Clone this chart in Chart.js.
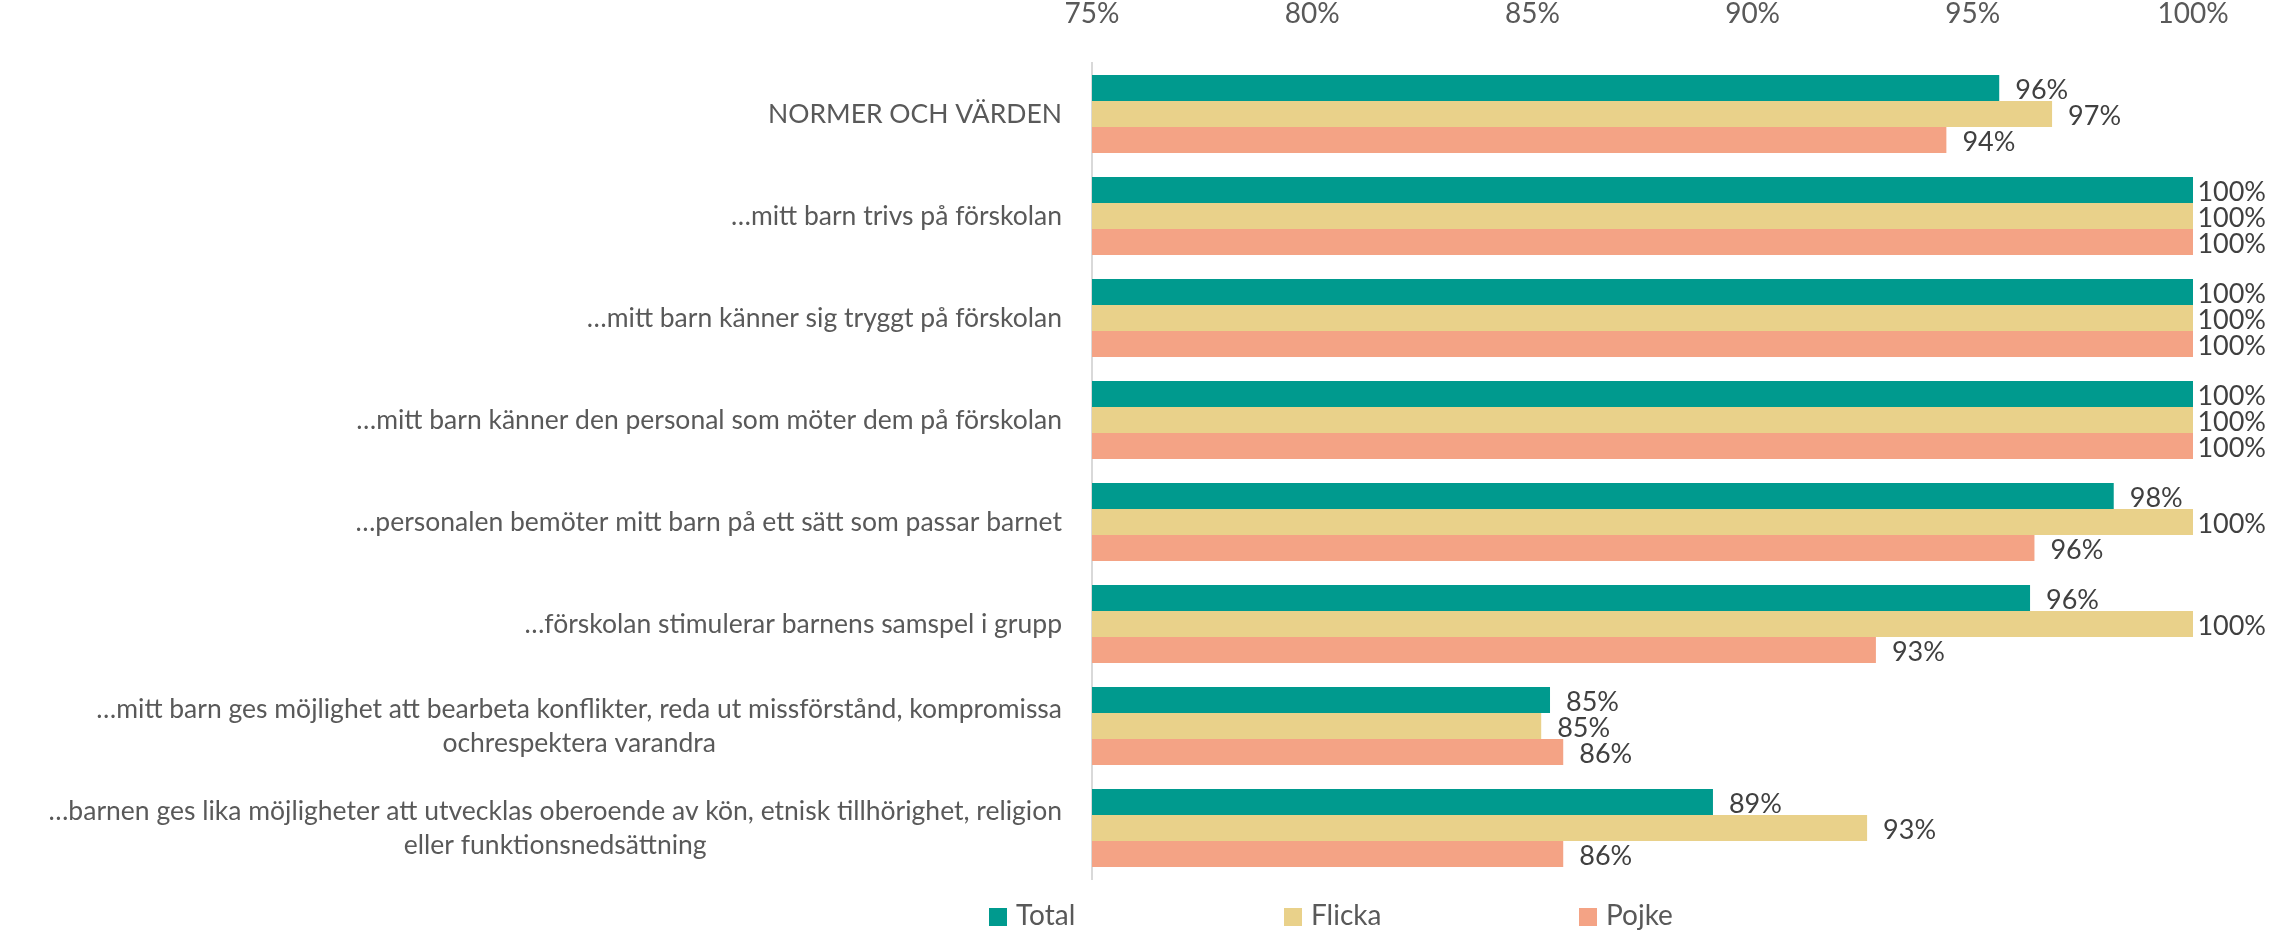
<!DOCTYPE html>
<html><head><meta charset="utf-8">
<script src="https://cdn.jsdelivr.net/npm/chart.js@4.4.0/dist/chart.umd.min.js"></script>
<style>html,body{margin:0;padding:0;background:#fff;} canvas{display:block}</style>
</head><body>
<canvas id="c" width="2290" height="931"></canvas>
<script>
const categories = [
  "NORMER OCH VÄRDEN",
  "…mitt barn trivs på förskolan",
  "…mitt barn känner sig tryggt på förskolan",
  "…mitt barn känner den personal som möter dem på förskolan",
  "…personalen bemöter mitt barn på ett sätt som passar barnet",
  "…förskolan stimulerar barnens samspel i grupp",
  ["…mitt barn ges möjlighet att bearbeta konflikter, reda ut missförstånd, kompromissa", "ochrespektera varandra"],
  ["…barnen ges lika möjligheter att utvecklas oberoende av kön, etnisk tillhörighet, religion", "eller funktionsnedsättning"]
];
const seriesNames = ["Total", "Flicka", "Pojke"];
const totalValues  = [95.6, 100, 100, 100, 98.2, 96.3, 85.4, 89.1];
const flickaValues = [96.8, 100, 100, 100, 100, 100, 85.2, 92.6];
const pojkeValues  = [94.4, 100, 100, 100, 96.4, 92.8, 85.7, 85.7];
const xTickValues = [75, 80, 85, 90, 95, 100];
const seriesColors = ["#009A8E", "#E9D18A", "#F4A385"];

const FONT = "Lato, 'Open Sans', sans-serif";
const LABEL_MAX_X = 2266;

const customPlugin = {
  id: "customLabels",
  afterDatasetsDraw(chart) {
    const ctx = chart.ctx;
    ctx.save();
    // data labels
    ctx.font = "27px " + FONT;
    ctx.fillStyle = "#404040";
    ctx.textBaseline = "middle";
    ctx.textAlign = "left";
    chart.data.datasets.forEach((ds, di) => {
      const meta = chart.getDatasetMeta(di);
      meta.data.forEach((bar, i) => {
        const txt = Math.round(ds.data[i]) + "%";
        const w = ctx.measureText(txt).width;
        let x = bar.x + 16;
        if (x + w > LABEL_MAX_X) x = LABEL_MAX_X - w;
        ctx.fillText(txt, x, bar.y + 2);
      });
    });
    // category labels
    ctx.font = "26.5px " + FONT;
    ctx.fillStyle = "#595959";
    ctx.textAlign = "center";
    const yScale = chart.scales.y;
    const right = chart.chartArea.left - 30;
    const lh = 34;
    chart.data.labels.forEach((lab, i) => {
      const lines = Array.isArray(lab) ? lab : [lab];
      const widest = Math.max(...lines.map(l => ctx.measureText(l).width));
      const cx = right - widest / 2;
      const cy = yScale.getPixelForTick(i);
      lines.forEach((l, j) => ctx.fillText(l, cx, cy + (j - (lines.length - 1) / 2) * lh));
    });
    // legend
    ctx.font = "28px " + FONT;
    ctx.textAlign = "left";
    const legStart = 989, slot = 295, legY = 917, box = 18;
    chart.data.datasets.forEach((ds, di) => {
      const x = legStart + di * slot;
      ctx.fillStyle = ds.backgroundColor;
      ctx.fillRect(x, legY - box / 2, box, box);
      ctx.fillStyle = "#595959";
      ctx.fillText(ds.label, x + 27, legY - 1);
    });
    ctx.restore();
  }
};

const datasets = [totalValues, flickaValues, pojkeValues].map((vals, i) => ({
  label: seriesNames[i],
  data: vals,
  backgroundColor: seriesColors[i],
  borderWidth: 0,
  categoryPercentage: 0.765,
  barPercentage: 1.0
}));

new Chart(document.getElementById("c"), {
  type: "bar",
  data: { labels: categories, datasets },
  options: {
    indexAxis: "y",
    responsive: false,
    animation: false,
    layout: { padding: { left: 0, right: 97, top: 0, bottom: 52 } },
    plugins: { legend: { display: false }, tooltip: { enabled: false } },
    scales: {
      x: {
        position: "top",
        min: xTickValues[0],
        max: xTickValues[xTickValues.length - 1],
        afterBuildTicks: s => { s.ticks = xTickValues.map(v => ({ value: v })); },
        ticks: {
          callback: v => v + "%",
          font: { family: FONT, size: 28 },
          color: "#595959",
          padding: 24,
          maxRotation: 0
        },
        grid: { display: false },
        border: { display: false },
        afterFit: s => { s.height = 63; }
      },
      y: {
        ticks: { display: false },
        grid: { display: false },
        border: { display: true, color: "#D9D9D9", width: 2 },
        afterFit: s => { s.width = 1092; }
      }
    }
  },
  plugins: [customPlugin]
});
</script>
</body></html>
